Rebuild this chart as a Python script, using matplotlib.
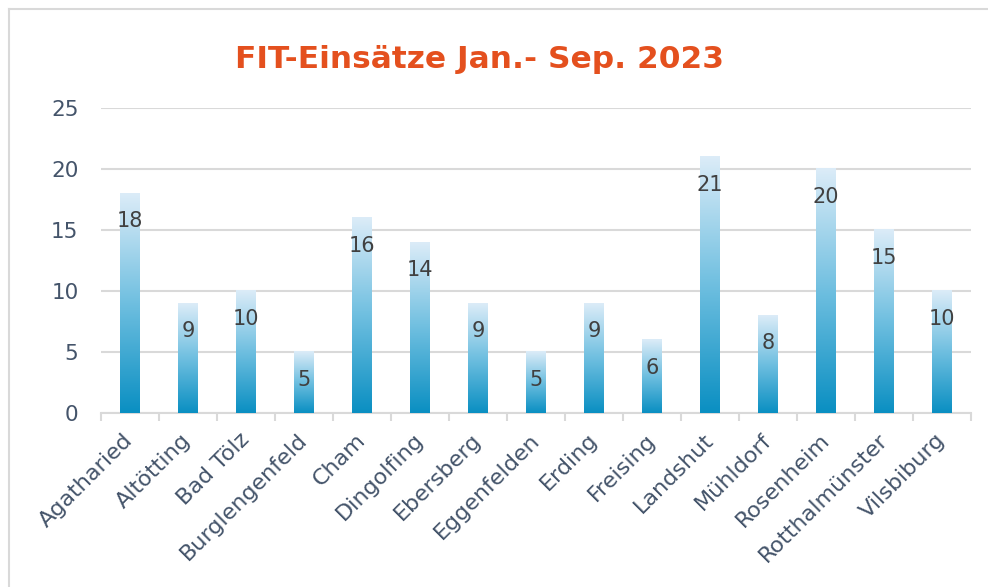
import matplotlib
matplotlib.use("Agg")
import matplotlib.pyplot as plt
import numpy as np
from matplotlib.colors import LinearSegmentedColormap
from matplotlib.lines import Line2D

plt.rcParams['font.family'] = ['DejaVu Sans']

standorte = ['Agatharied', 'Altötting', 'Bad Tölz', 'Burglengenfeld', 'Cham',
             'Dingolfing', 'Ebersberg', 'Eggenfelden', 'Erding', 'Freising',
             'Landshut', 'Mühldorf', 'Rosenheim', 'Rotthalmünster', 'Vilsbiburg']
einsaetze = [18, 9, 10, 5, 16, 14, 9, 5, 9, 6, 21, 8, 20, 15, 10]
y_ticks = [0, 5, 10, 15, 20, 25]
title = "FIT-Einsätze Jan.- Sep. 2023"

TEXT_COL = '#44546a'
GRID_COL = '#d9d9d9'

fig = plt.figure(figsize=(9.88, 5.87), dpi=100)
ax = fig.add_axes([0.102, 0.2964, 0.881, 0.5196])

cmap = LinearSegmentedColormap.from_list("fit", ['#0a8fc2', '#6fbfe0', '#dcecf8'])
grad = np.linspace(0, 1, 256).reshape(-1, 1)

x = np.arange(len(standorte))
bar_w = 0.34
for xi, v in zip(x, einsaetze):
    ax.imshow(grad, extent=[xi - bar_w / 2, xi + bar_w / 2, 0, v], origin='lower',
              aspect='auto', cmap=cmap, zorder=3)
    ax.text(xi, v - 2.3, str(v), ha='center', va='center', fontsize=15,
            color='#404040', zorder=4)

ax.set_xlim(-0.5, len(standorte) - 0.5)
ax.set_ylim(0, 25)
ax.set_yticks(y_ticks)
ax.set_xticks(x - 0.12)
ax.set_xticklabels(standorte, rotation=45, ha='right', rotation_mode='anchor',
                   fontsize=16, color=TEXT_COL)
ax.tick_params(axis='x', length=0, pad=12)
ax.set_xticks(np.arange(len(standorte) + 1) - 0.5, minor=True)
ax.tick_params(axis='x', which='minor', length=6, width=1.5, color=GRID_COL)
ax.tick_params(axis='y', length=0, labelsize=15.5, labelcolor=TEXT_COL, pad=16)

ax.grid(axis='y', color=GRID_COL, linewidth=1.5, zorder=0)
ax.set_axisbelow(True)
for s in ['top', 'right', 'left']:
    ax.spines[s].set_visible(False)
ax.spines['bottom'].set_color(GRID_COL)
ax.spines['bottom'].set_linewidth(1.5)

fig.text(0.485, 0.898, title, ha='center', va='center', fontsize=22.5,
         fontweight='bold', color='#e4501e')

# frame of the chart area
fig.add_artist(Line2D([9 / 988, 9 / 988], [0, 1 - 9 / 587], color=GRID_COL, lw=1.5))
fig.add_artist(Line2D([9 / 988, 1], [1 - 9 / 587, 1 - 9 / 587], color=GRID_COL, lw=1.5))

fig.savefig("out.png", dpi=100)
